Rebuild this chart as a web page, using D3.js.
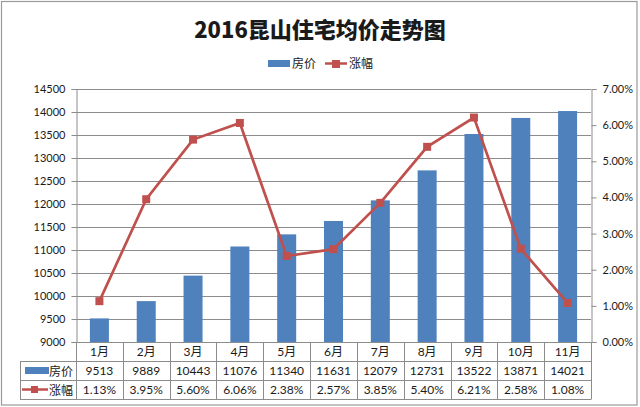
<!DOCTYPE html>
<html><head><meta charset="utf-8">
<script src="https://cdn.jsdelivr.net/npm/d3@7"></script>
<style>
body{margin:0;background:#fff;}
svg text{font-family:"Lato","Noto Sans CJK SC",sans-serif;fill:#1a1a1a;}
</style></head>
<body><svg id="c" width="640" height="407"></svg>
<script>
const months = ["1月","2月","3月","4月","5月","6月","7月","8月","9月","10月","11月"];
const prices = [9513,9889,10443,11076,11340,11631,12079,12731,13522,13871,14021];
const growth = [1.13,3.95,5.60,6.06,2.38,2.57,3.85,5.40,6.21,2.58,1.08];
const priceTicks = [9000,9500,10000,10500,11000,11500,12000,12500,13000,13500,14000,14500];
const pctTicks = [0,1,2,3,4,5,6,7];
const title = "2016昆山住宅均价走势图";
const seriesNames = ["房价","涨幅"];

const blue = "#4F81BD", red = "#C0504D", grid = "#8c8c8c";
const svg = d3.select("#c");
const L = 76, R = 591, T = 89, B = 342;
const x = d3.scaleBand().domain(months).range([L, R]);
const y = d3.scaleLinear().domain([9000,14500]).range([B, T]);
const y2 = d3.scaleLinear().domain([0,7]).range([B, T]);

// outer border
svg.append("rect").attr("x",1.5).attr("y",1.5).attr("width",635.5).attr("height",403.5)
  .attr("fill","none").attr("stroke","#9a9a9a").attr("stroke-width",1.2);

// title
svg.append("text").attr("x",320).attr("y",38).attr("text-anchor","middle")
  .style("font-family","'Noto Sans CJK SC',sans-serif").style("font-weight","900")
  .style("font-size","22px").attr("fill","#000").text(title);

// legend
const lg = svg.append("g");
lg.append("rect").attr("x",268).attr("y",60).attr("width",22).attr("height",7).attr("fill",blue);
lg.append("text").attr("x",292).attr("y",68).style("font-size","12px").text(seriesNames[0]);
lg.append("line").attr("x1",325).attr("x2",347).attr("y1",63.5).attr("y2",63.5).attr("stroke",red).attr("stroke-width",2.5);
lg.append("rect").attr("x",332).attr("y",60).attr("width",8).attr("height",8).attr("fill",red);
lg.append("text").attr("x",349).attr("y",68).style("font-size","12px").text(seriesNames[1]);

// gridlines
svg.append("g").selectAll("line").data(priceTicks.slice(1)).join("line")
  .attr("x1",L).attr("x2",R).attr("y1",d=>Math.round(y(d))+0.5).attr("y2",d=>Math.round(y(d))+0.5)
  .attr("stroke",grid).attr("stroke-width",1);

// left axis
const ax = svg.append("g").attr("transform",`translate(${L+0.5},0)`)
  .call(d3.axisLeft(y).tickValues(priceTicks).tickSize(5).tickPadding(6).tickFormat(d3.format("d")));
ax.select(".domain").attr("stroke",grid);
ax.selectAll(".tick line").attr("stroke",grid);
ax.selectAll("text").style("font-size","11px").attr("fill","#1a1a1a").style("font-family","Lato,sans-serif");

// right axis
const ax2 = svg.append("g").attr("transform",`translate(${R+0.5},0)`)
  .call(d3.axisRight(y2).tickValues(pctTicks).tickSize(5).tickPadding(6).tickFormat(d=>d3.format(".2f")(d)+"%"));
ax2.select(".domain").attr("stroke",grid);
ax2.selectAll(".tick line").attr("stroke",grid);
ax2.selectAll("text").style("font-size","11px").attr("fill","#1a1a1a").style("font-family","Lato,sans-serif");

// bars
const bw = 19;
svg.append("g").selectAll("rect").data(prices).join("rect")
  .attr("x",(d,i)=>x(months[i])+x.bandwidth()/2-bw/2).attr("width",bw)
  .attr("y",d=>y(d)).attr("height",d=>B-y(d)).attr("fill",blue);

// line
const line = d3.line().x((d,i)=>x(months[i])+x.bandwidth()/2).y(d=>y2(d));
svg.append("path").datum(growth).attr("d",line).attr("fill","none").attr("stroke",red).attr("stroke-width",2.7);
svg.append("g").selectAll("rect").data(growth).join("rect")
  .attr("x",(d,i)=>x(months[i])+x.bandwidth()/2-4).attr("y",d=>y2(d)-4)
  .attr("width",8).attr("height",8).attr("fill",red);

// table
const tg = svg.append("g").attr("stroke",grid).attr("stroke-width",1);
tg.append("line").attr("x1",L).attr("x2",R).attr("y1",B+0.5).attr("y2",B+0.5);
[361,380,399].forEach(v=>tg.append("line").attr("x1",20).attr("x2",R).attr("y1",v+0.5).attr("y2",v+0.5));
tg.append("line").attr("x1",20.5).attr("x2",20.5).attr("y1",361).attr("y2",399.5);
months.concat(["_end"]).forEach((m,i)=>{
  const xv = Math.round(L + i*x.step())+0.5;
  tg.append("line").attr("x1",xv).attr("x2",xv).attr("y1",B).attr("y2",399.5);
});
const cx = (i)=>x(months[i])+x.bandwidth()/2;
svg.append("g").selectAll("text").data(months).join("text")
  .attr("x",(d,i)=>cx(i)).attr("y",356).attr("text-anchor","middle").style("font-size","12px").text(d=>d);
svg.append("g").selectAll("text").data(prices).join("text")
  .attr("x",(d,i)=>cx(i)).attr("y",375).attr("text-anchor","middle").style("font-size","12px").text(d=>d);
svg.append("g").selectAll("text").data(growth).join("text")
  .attr("x",(d,i)=>cx(i)).attr("y",394).attr("text-anchor","middle").style("font-size","12px").text(d=>d3.format(".2f")(d)+"%");
// table legend keys
svg.append("rect").attr("x",25).attr("y",367).attr("width",24).attr("height",7).attr("fill",blue);
svg.append("text").attr("x",49).attr("y",375.5).style("font-size","12px").text(seriesNames[0]);
svg.append("line").attr("x1",22).attr("x2",48).attr("y1",389.5).attr("y2",389.5).attr("stroke",red).attr("stroke-width",2.5);
svg.append("rect").attr("x",31).attr("y",386).attr("width",7).attr("height",7).attr("fill",red);
svg.append("text").attr("x",49).attr("y",394.5).style("font-size","12px").text(seriesNames[1]);
</script></body></html>
